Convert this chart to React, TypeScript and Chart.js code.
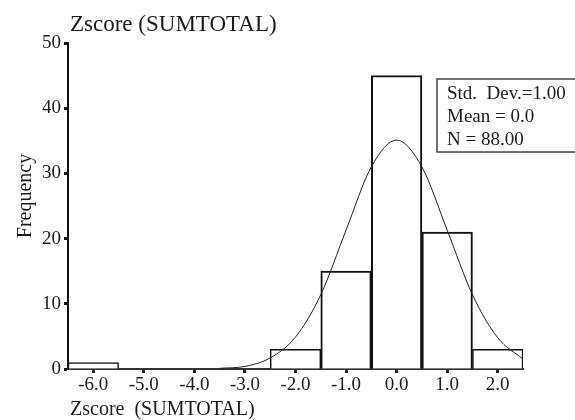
import React, { useEffect, useRef } from "react";
import { Chart, registerables } from "chart.js";

Chart.register(...registerables);

const binCenters = [-6, -5, -4, -3, -2, -1, 0, 1, 2];
const frequencies = [1, 0, 0, 0, 3, 15, 45, 21, 3];
const curveX = [-3.5, -3, -2.5, -2, -1.5, -1, -0.5, 0, 0.5, 1, 1.5, 2, 2.5];
const curveY = [0.1, 0.4, 1.7, 4.9, 11.4, 21.3, 31, 35.1, 31, 21.3, 11.4, 4.8, 1.5];
const xTicks = [-6, -5, -4, -3, -2, -1, 0, 1, 2];
const yTicks = [0, 10, 20, 30, 40, 50];
const chartTitle = "Zscore (SUMTOTAL)";
const xTitle = "Zscore  (SUMTOTAL)";
const yTitle = "Frequency";
const statsLines = ["Std.  Dev.=1.00", "Mean = 0.0", "N = 88.00"];

const FONT = "'Liberation Serif', 'Times New Roman', serif";

const textPlugin = {
  id: "textPlugin",
  afterDraw(chart: any) {
    const ctx = chart.ctx;
    ctx.save();
    ctx.fillStyle = "#1a1a1a";
    ctx.textBaseline = "alphabetic";
    ctx.textAlign = "left";
    ctx.font = `23px ${FONT}`;
    ctx.fillText(chartTitle, 70, 31);
    ctx.font = `20px ${FONT}`;
    ctx.fillText(xTitle, 70, 415);
    ctx.save();
    ctx.translate(31, 196);
    ctx.rotate(-Math.PI / 2);
    ctx.textAlign = "center";
    ctx.font = `20px ${FONT}`;
    ctx.fillText(yTitle, 0, 0);
    ctx.restore();
    // stats box
    ctx.strokeStyle = "#444";
    ctx.lineWidth = 1.5;
    ctx.fillStyle = "#fff";
    ctx.fillRect(437, 79, 150, 73);
    ctx.strokeRect(437, 79, 150, 73);
    ctx.fillStyle = "#1a1a1a";
    ctx.font = `19px ${FONT}`;
    const bases = [99, 122, 145];
    statsLines.forEach((t, i) => ctx.fillText(t, 447, bases[i]));
    ctx.restore();
  },
};

export default function App() {
  const ref = useRef<HTMLCanvasElement | null>(null);
  useEffect(() => {
    document.body.style.margin = "0";
    const canvas = ref.current!;
    const chart = new Chart(canvas, {
      type: "bar",
      data: {
        datasets: [
          {
            type: "line",
            data: curveX.map((x, i) => ({ x, y: curveY[i] })),
            borderColor: "#222",
            borderWidth: 1,
            pointRadius: 0,
            cubicInterpolationMode: "monotone",
            fill: false,
            order: 0,
          } as any,
          {
            type: "bar",
            data: binCenters.map((x, i) => ({ x, y: frequencies[i] })),
            backgroundColor: "#fff",
            borderColor: "#111",
            borderWidth: (c: any) => (c.raw && c.raw.y >= 10 ? 2 : 1.5),
            barPercentage: 1,
            categoryPercentage: 1,
            order: 1,
          } as any,
        ],
      },
      options: {
        animation: false,
        responsive: false,
        layout: { padding: { top: 43, right: 52, left: 0, bottom: 0 } },
        plugins: { legend: { display: false }, tooltip: { enabled: false } },
        scales: {
          x: {
            type: "linear",
            offset: false,
            min: -6.5,
            max: 2.5,
            afterBuildTicks: (s: any) => {
              s.ticks = xTicks.map((v) => ({ value: v }));
            },
            afterFit: (s: any) => {
              s.height = 51;
            },
            ticks: {
              callback: (v: any) => Number(v).toFixed(1),
              font: { family: FONT, size: 19 },
              color: "#1a1a1a",
              padding: 1,
              maxRotation: 0,
              autoSkip: false,
            },
            grid: {
              offset: false,
              drawOnChartArea: false,
              drawTicks: true,
              tickLength: 4,
              tickWidth: 3,
              tickColor: "#222",
            },
            border: { display: true, color: "#333", width: 2, dash: [3, 1] },
          },
          y: {
            type: "linear",
            min: 0,
            max: 50,
            afterBuildTicks: (s: any) => {
              s.ticks = yTicks.map((v) => ({ value: v }));
            },
            afterFit: (s: any) => {
              s.width = 68;
            },
            ticks: {
              font: { family: FONT, size: 19 },
              color: "#1a1a1a",
              padding: 3,
            },
            grid: {
              drawOnChartArea: false,
              drawTicks: true,
              tickLength: 4,
              tickWidth: 3,
              tickColor: "#111",
            },
            border: { display: true, color: "#111", width: 2 },
          },
        },
      },
      plugins: [textPlugin],
    } as any);
    return () => chart.destroy();
  }, []);
  return (
    <div style={{ width: 575, height: 420 }}>
      <canvas ref={ref} width={575} height={420} style={{ display: "block" }} />
    </div>
  );
}
